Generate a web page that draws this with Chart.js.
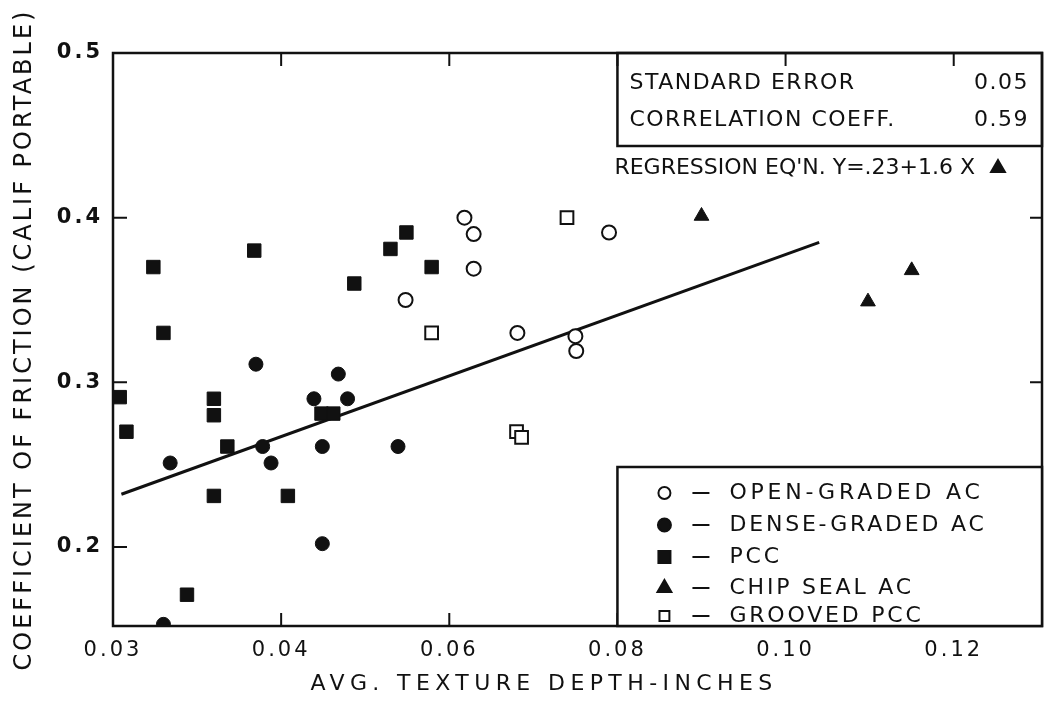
<!DOCTYPE html>
<html>
<head>
<meta charset="utf-8">
<script src="https://cdn.jsdelivr.net/npm/chart.js@4.4.1/dist/chart.umd.min.js"></script>
<style>
  html, body { margin: 0; padding: 0; background: #ffffff; overflow: hidden; }
  #wrap { width: 1048px; height: 702px; position: relative; }
  canvas { display: block; }
</style>
</head>
<body>
<div id="wrap"><canvas id="c" width="1048" height="702"></canvas></div>
<script>
// ---------------- data ----------------
const xTickValues = [0.03, 0.04, 0.06, 0.08, 0.10, 0.12];
const xTickLabels = ['0.03', '0.04', '0.06', '0.08', '0.10', '0.12'];
const yTickValues = [0.2, 0.3, 0.4, 0.5];
const yTickLabels = ['0.2', '0.3', '0.4', '0.5'];

const xTitle = 'AVG. TEXTURE DEPTH-INCHES';
const yTitle = 'COEFFICIENT OF FRICTION (CALIF PORTABLE)';

const seriesNames = ['OPEN-GRADED AC', 'DENSE-GRADED AC', 'PCC', 'CHIP SEAL AC', 'GROOVED PCC'];

const openGradedAC = [[0.0618, 0.400], [0.0629, 0.390], [0.0629, 0.369], [0.0548, 0.350],
  [0.0681, 0.330], [0.0750, 0.328], [0.0751, 0.319], [0.0790, 0.391]];
const denseGradedAC = [[0.0385, 0.311], [0.0468, 0.305], [0.0439, 0.290], [0.0479, 0.290],
  [0.0389, 0.261], [0.0449, 0.261], [0.0334, 0.251], [0.0394, 0.251], [0.0449, 0.202],
  [0.0330, 0.153], [0.0539, 0.261]];
const pcc = [[0.0324, 0.370], [0.0384, 0.380], [0.0487, 0.360], [0.0330, 0.330], [0.0304, 0.291],
  [0.0360, 0.290], [0.0360, 0.280], [0.0308, 0.270], [0.0448, 0.281], [0.0462, 0.281],
  [0.0368, 0.261], [0.0360, 0.231], [0.0408, 0.231], [0.0344, 0.171], [0.0549, 0.391],
  [0.0530, 0.381], [0.0579, 0.370]];
const chipSealAC = [[0.0900, 0.401], [0.1150, 0.368], [0.1098, 0.349]];
const groovedPCC = [[0.0579, 0.330], [0.0740, 0.400], [0.0680, 0.270], [0.0686, 0.2665]];

const regressionLine = [[0.0305, 0.232], [0.1040, 0.385]];

const statLabels = ['STANDARD ERROR', 'CORRELATION COEFF.'];
const statValues = ['0.05', '0.59'];
const regressionText = "REGRESSION EQ'N. Y=.23+1.6 X";

// ---------------- broken x scale (0.03-0.04 segment drawn twice as wide) ----------------
const X_BREAK = 0.04, X_STRETCH = 2;
class BrokenLinearScale extends Chart.LinearScale {
  _toU(v) { return v < X_BREAK ? X_BREAK - X_STRETCH * (X_BREAK - v) : v; }
  _fromU(u) { return u < X_BREAK ? X_BREAK - (X_BREAK - u) / X_STRETCH : u; }
  configure() {
    super.configure();
    this._startValue = this._toU(this.min);
    this._valueRange = this._endValue - this._startValue;
  }
  getPixelForValue(v) { return super.getPixelForValue(this._toU(v)); }
  getValueForPixel(p) { return this._fromU(super.getValueForPixel(p)); }
}
BrokenLinearScale.id = 'brokenLinear';
BrokenLinearScale.defaults = Chart.LinearScale.defaults;
Chart.register(BrokenLinearScale);

const INK = '#111111';
const FONT = '"DejaVu Sans", sans-serif';
const pts = arr => arr.map(p => ({ x: p[0], y: p[1] }));

// ---------------- plugins ----------------
const spacingPlugin = {
  id: 'spacing',
  beforeDraw(chart) { chart.ctx.letterSpacing = '3px'; },
  afterDraw(chart) { chart.ctx.letterSpacing = '0px'; }
};

const framePlugin = {
  id: 'frame',
  beforeDatasetsDraw(chart) {
    const ctx = chart.ctx;
    const { left, right, top, bottom } = chart.chartArea;
    const xs = chart.scales.x, ys = chart.scales.y;
    ctx.save();
    ctx.strokeStyle = INK;
    ctx.lineWidth = 2.5;
    ctx.strokeRect(left, top, right - left, bottom - top);
    ctx.lineWidth = 2;
    ctx.beginPath();
    xTickValues.forEach(v => {
      const px = xs.getPixelForValue(v);
      if (px > left + 2 && px < right - 2) {
        ctx.moveTo(px, bottom); ctx.lineTo(px, bottom - 13);
        ctx.moveTo(px, top); ctx.lineTo(px, top + 13);
      }
    });
    yTickValues.forEach(v => {
      const py = ys.getPixelForValue(v);
      if (py > top + 2 && py < bottom - 2) {
        ctx.moveTo(left, py); ctx.lineTo(left + 14, py);
        ctx.moveTo(right, py); ctx.lineTo(right - 12, py);
      }
    });
    ctx.stroke();
    ctx.restore();
  }
};

const annotationPlugin = {
  id: 'annot',
  afterDraw(chart) {
    const ctx = chart.ctx;
    const { left, right, top, bottom } = chart.chartArea;
    const boxLeft = chart.scales.x.getPixelForValue(0.08);
    ctx.save();
    ctx.strokeStyle = INK;
    ctx.fillStyle = INK;
    ctx.lineWidth = 2.5;

    // stats box
    const statsBottom = top + 93;
    ctx.strokeRect(boxLeft, top, right - boxLeft, statsBottom - top);
    ctx.font = '22px ' + FONT;
    ctx.letterSpacing = '1.5px';
    ctx.textBaseline = 'middle';
    ctx.textAlign = 'left';
    ctx.fillText(statLabels[0], boxLeft + 12, top + 30);
    ctx.fillText(statLabels[1], boxLeft + 12, top + 67);
    ctx.textAlign = 'right';
    ctx.fillText(statValues[0], right - 13, top + 30);
    ctx.fillText(statValues[1], right - 13, top + 67);

    // regression equation
    ctx.textAlign = 'left';
    ctx.letterSpacing = '0px';
    ctx.fillText(regressionText, boxLeft - 3, top + 115);
    Chart.helpers.drawPoint(ctx, { pointStyle: 'triangle', radius: 7.5, borderWidth: 1 }, right - 44, top + 115);

    // legend box
    const legTop = bottom - 159;
    ctx.fillStyle = '#ffffff';
    ctx.fillRect(boxLeft, legTop, right - boxLeft, bottom - legTop);
    ctx.fillStyle = INK;
    ctx.lineWidth = 2.5;
    ctx.strokeRect(boxLeft, legTop, right - boxLeft, bottom - legTop);
    const rows = [26, 58, 90, 121, 149];
    const styles = [
      { pointStyle: 'circle', radius: 6, fill: false },
      { pointStyle: 'circle', radius: 6.5, fill: true },
      { pointStyle: 'rect', radius: 8.5, fill: true },
      { pointStyle: 'triangle', radius: 8, fill: true },
      { pointStyle: 'rect', radius: 7, fill: false }
    ];
    ctx.font = '22px ' + FONT;
    rows.forEach((dy, i) => {
      const cy = legTop + dy;
      ctx.save();
      ctx.lineWidth = 2;
      ctx.fillStyle = styles[i].fill ? INK : '#ffffff';
      ctx.strokeStyle = INK;
      Chart.helpers.drawPoint(ctx, { pointStyle: styles[i].pointStyle, radius: styles[i].radius, borderWidth: 2 }, boxLeft + 47, cy);
      ctx.restore();
      ctx.beginPath();
      ctx.lineWidth = 2;
      ctx.moveTo(boxLeft + 75, cy); ctx.lineTo(boxLeft + 92, cy);
      ctx.stroke();
      ctx.letterSpacing = i === 0 ? '3.8px' : '2.8px';
      ctx.fillText(seriesNames[i], boxLeft + 112, cy);
    });

    // x axis title
    ctx.letterSpacing = '5.4px';
    ctx.font = '22px ' + FONT;
    ctx.textAlign = 'center';
    ctx.fillText(xTitle, 544, 684);
    ctx.restore();
  }
};

const zeroPad = s => { s.paddingLeft = 0; s.paddingRight = 0; s.paddingTop = 0; s.paddingBottom = 0; };

// ---------------- chart ----------------
new Chart(document.getElementById('c'), {
  type: 'scatter',
  data: {
    datasets: [
      { label: seriesNames[0], data: pts(openGradedAC), pointStyle: 'circle', pointRadius: 7,
        backgroundColor: '#ffffff', borderColor: INK, borderWidth: 2 },
      { label: seriesNames[1], data: pts(denseGradedAC), pointStyle: 'circle', pointRadius: 7,
        backgroundColor: INK, borderColor: INK, borderWidth: 1 },
      { label: seriesNames[2], data: pts(pcc), pointStyle: 'rect', pointRadius: 9.5,
        backgroundColor: INK, borderColor: INK, borderWidth: 1 },
      { label: seriesNames[3], data: pts(chipSealAC), pointStyle: 'triangle', pointRadius: 8.5,
        backgroundColor: INK, borderColor: INK, borderWidth: 1 },
      { label: seriesNames[4], data: pts(groovedPCC), pointStyle: 'rect', pointRadius: 9,
        backgroundColor: '#ffffff', borderColor: INK, borderWidth: 2 },
      { label: 'Regression', data: pts(regressionLine), showLine: true, pointRadius: 0,
        borderColor: INK, borderWidth: 3, fill: false }
    ]
  },
  options: {
    responsive: false,
    animation: false,
    layout: { autoPadding: false, padding: { top: 53, right: 6, left: 0, bottom: 0 } },
    plugins: { legend: { display: false }, tooltip: { enabled: false } },
    scales: {
      x: {
        type: 'brokenLinear', min: 0.03, max: 0.1305,
        afterBuildTicks: s => { s.ticks = xTickValues.map(v => ({ value: v })); },
        afterFit: s => { s.height = 76; zeroPad(s); },
        grid: { display: false, drawTicks: false },
        border: { display: false },
        ticks: { callback: (v, i) => xTickLabels[i], color: INK, padding: 12, autoSkip: false,
          maxRotation: 0, font: { family: FONT, size: 21 } },
        title: { display: false, text: xTitle }
      },
      y: {
        type: 'linear', min: 0.152, max: 0.5,
        afterBuildTicks: s => { s.ticks = yTickValues.map(v => ({ value: v })); },
        afterFit: s => { s.width = 113; zeroPad(s); },
        grid: { display: false, drawTicks: false },
        border: { display: false },
        ticks: { callback: (v, i) => yTickLabels[i], color: INK, padding: 10,
          font: { family: FONT, size: 21, weight: 'bold' } },
        title: { display: true, text: yTitle, color: INK, padding: { top: 10, bottom: 0 },
          font: { family: FONT, size: 24 } }
      }
    }
  },
  plugins: [spacingPlugin, framePlugin, annotationPlugin]
});
</script>
</body>
</html>
